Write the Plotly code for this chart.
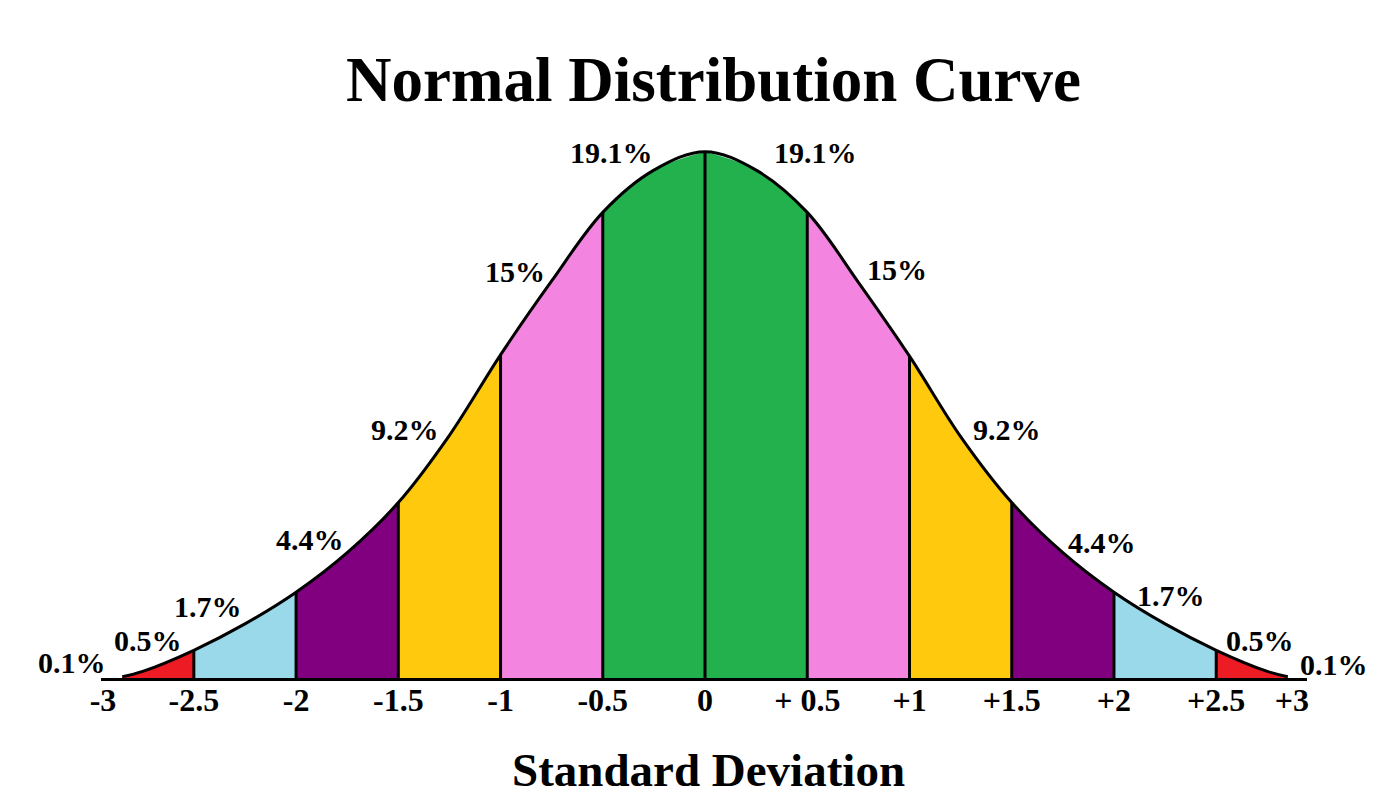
import plotly.graph_objects as go

# ---------------- data ----------------
# curve height (density units) at standard-deviation positions
sd_points = [-2.85, -2.75, -2.5, -2.25, -2.0, -1.75, -1.5, -1.25, -1.0, -0.75, -0.5, -0.25, 0.0,
             0.25, 0.5, 0.75, 1.0, 1.25, 1.5, 1.75, 2.0, 2.25, 2.5, 2.75, 2.85]
density = [0.001, 0.005, 0.021, 0.041, 0.065, 0.095, 0.133, 0.184, 0.245, 0.301, 0.353, 0.385, 0.399,
           0.385, 0.353, 0.300, 0.244, 0.183, 0.133, 0.095, 0.065, 0.041, 0.021, 0.005, 0.001]

# band edges (curve start/end and the 0.5-SD cut points)
band_edges = [-2.85, -2.5, -2.0, -1.5, -1.0, -0.5, 0.0, 0.5, 1.0, 1.5, 2.0, 2.5, 2.85]

pct_labels = ["0.1%", "0.5%", "1.7%", "4.4%", "9.2%", "15%", "19.1%",
              "19.1%", "15%", "9.2%", "4.4%", "1.7%", "0.5%", "0.1%"]

tick_labels = ["-3", "-2.5", "-2", "-1.5", "-1", "-0.5", "0", "+ 0.5", "+1", "+1.5", "+2", "+2.5", "+3"]
tick_values = [-3, -2.5, -2, -1.5, -1, -0.5, 0, 0.5, 1, 1.5, 2, 2.5, 3]

# ---------------- styles / layout ----------------
band_colors = ["#ED1C24", "#99D9EA", "#800080", "#FFC90E", "#F384E0", "#22B14C",
               "#22B14C", "#F384E0", "#FFC90E", "#800080", "#99D9EA", "#ED1C24"]

# label anchor positions in axis units (x in SD, y in density)
label_pos = [(-3.095, 0.0121), (-2.724, 0.0288), (-2.430, 0.0539), (-1.932, 0.1047),
             (-1.467, 0.1881), (-0.929, 0.3080), (-0.455, 0.3982), (0.538, 0.3982),
             (0.939, 0.3095), (1.477, 0.1881), (1.941, 0.1024), (2.279, 0.0622),
             (2.714, 0.0288), (3.076, 0.0099)]

X_RANGE = [-2.954, 2.944]
Y_RANGE = [0, 0.42]
SERIF = "Liberation Serif"

fig = go.Figure()

# coloured bands
for i, col in enumerate(band_colors):
    a, b = band_edges[i], band_edges[i + 1]
    xs = [z for z in sd_points if a - 1e-9 <= z <= b + 1e-9]
    ys = [density[sd_points.index(z)] for z in xs]
    fig.add_trace(go.Scatter(x=xs, y=ys, mode="lines", fill="tozeroy",
                             fillcolor=col, line=dict(width=0, shape="spline", color=col),
                             hoverinfo="skip", showlegend=False))

# vertical separators
vx, vy = [], []
for e in band_edges[1:-1]:
    h = density[sd_points.index(e)]
    vx += [e, e, None]
    vy += [0, h, None]
fig.add_trace(go.Scatter(x=vx, y=vy, mode="lines", line=dict(color="black", width=3),
                         hoverinfo="skip", showlegend=False))

# outline curve
fig.add_trace(go.Scatter(x=sd_points, y=density, mode="lines",
                         line=dict(color="black", width=3, shape="spline"),
                         hoverinfo="skip", showlegend=False))


def to_paper(x, y):
    return ((x - X_RANGE[0]) / (X_RANGE[1] - X_RANGE[0]),
            (y - Y_RANGE[0]) / (Y_RANGE[1] - Y_RANGE[0]))


# percentage labels (paper refs so the outer ones are not hidden)
for txt, (lx, ly) in zip(pct_labels, label_pos):
    px_, py_ = to_paper(lx, ly)
    fig.add_annotation(x=px_, y=py_, xref="paper", yref="paper", text=f"<b>{txt}</b>",
                       showarrow=False, xanchor="center", yanchor="middle",
                       font=dict(family=SERIF, size=30, color="black"))

# tick positions: the end labels sit at the ends of the baseline
tick_pos = [min(max(v, X_RANGE[0] + 0.01), 2.87) for v in tick_values]

fig.update_xaxes(range=X_RANGE, showgrid=False, zeroline=False, showline=True,
                 linecolor="black", linewidth=3, ticks="", tickvals=tick_pos,
                 ticktext=[f"<b>{t}</b>" for t in tick_labels],
                 ticklabelstandoff=-8,
                 tickfont=dict(family=SERIF, size=32, color="black"))
fig.update_yaxes(range=Y_RANGE, visible=False, showgrid=False, zeroline=False)

# title and axis caption (paper coords: plot area spans x 101..1307 px, y 124..678 px)
fig.add_annotation(x=0.5075, y=1.0794, xref="paper", yref="paper",
                   text="<b>Normal Distribution Curve</b>", showarrow=False,
                   xanchor="center", yanchor="middle",
                   font=dict(family=SERIF, size=63, color="black"))
fig.add_annotation(x=0.5041, y=-0.166, xref="paper", yref="paper",
                   text="<b>Standard Deviation</b>", showarrow=False,
                   xanchor="center", yanchor="middle",
                   font=dict(family=SERIF, size=47, color="black"))

fig.update_layout(width=1388, height=800, autosize=False,
                  margin=dict(l=101, r=81, t=124, b=122),
                  paper_bgcolor="white", plot_bgcolor="white")

fig.write_html("out.html")
